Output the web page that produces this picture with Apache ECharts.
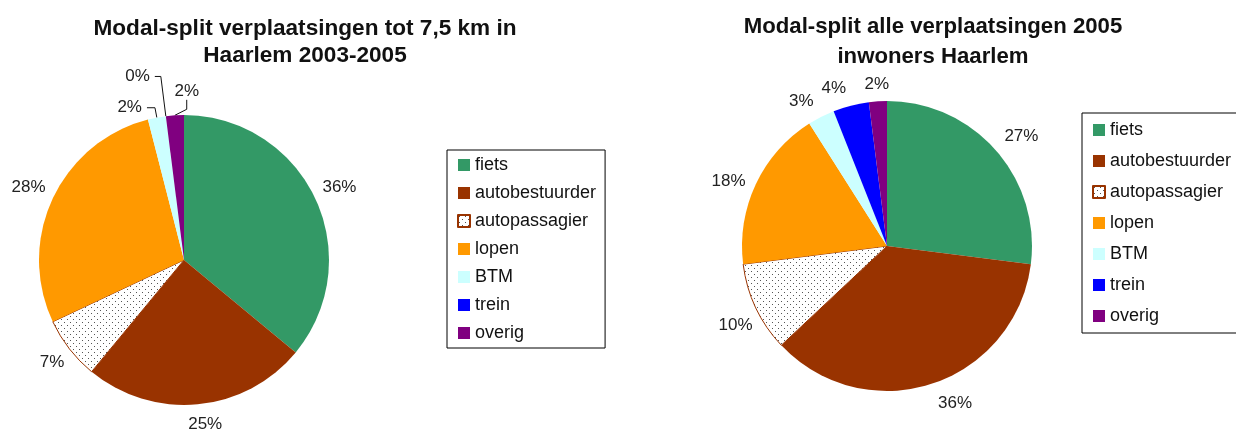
<!doctype html>
<html>
<head>
<meta charset="utf-8">
<title>Modal-split Haarlem</title>
<script src="https://cdn.jsdelivr.net/npm/echarts@6/dist/echarts.min.js"></script>
<style>
    html, body { margin: 0; padding: 0; background: #fff; }
    #main { width: 1236px; height: 430px; }
</style>
</head>
<body>
<div id="main"></div>
<script type="text/javascript">
    // categorieen en aandelen (in %)
    var categories = ['fiets', 'autobestuurder', 'autopassagier', 'lopen', 'BTM', 'trein', 'overig'];
    var shortTrips = [36, 25, 7, 28, 2, 0, 2];   // verplaatsingen tot 7,5 km, 2003-2005
    var allTrips = [27, 36, 10, 18, 3, 4, 2];    // alle verplaatsingen 2005
    var titleLeft = 'Modal-split verplaatsingen tot 7,5 km in\nHaarlem 2003-2005';
    var titleRight = 'Modal-split alle verplaatsingen 2005\ninwoners Haarlem';

    var font = "'Liberation Sans', Arial, sans-serif";
    var colors = ['#339966', '#993300', '#ffffff', '#ff9900', '#ccffff', '#0000ff', '#800080'];

    // gestippeld patroon voor autopassagier
    function dotPattern() {
        var c = document.createElement('canvas');
        c.width = 6; c.height = 6;
        var ctx = c.getContext('2d');
        ctx.fillStyle = '#ffffff';
        ctx.fillRect(0, 0, 6, 6);
        ctx.fillStyle = '#555555';
        ctx.fillRect(1, 1, 1, 1);
        ctx.fillRect(4, 4, 1, 1);
        return c;
    }
    var pattern = dotPattern();

    // zichtbare verbindingslijnen bij de kleine sectoren links [length, length2]
    var leftLines = { 4: [10, 8], 5: [40, 6], 6: [14, 0] };
    // kleine verschuivingen van labels, zoals Excel ze neerzet [dx, dy]
    var labelNudge = [
        { 1: [6, 3], 6: [30, -10] },
        { 0: [10, 0], 1: [18, 3], 2: [4, 6], 3: [-3, 8], 4: [-12, 0], 5: [-13, -1] }
    ];
    var labelGap = 8;

    function buildData(values, lines) {
        return categories.map(function (name, i) {
            var item = { name: name, value: values[i], itemStyle: { color: colors[i] } };
            if (i === 2) {
                item.itemStyle = { color: { image: pattern, repeat: 'repeat' }, borderColor: '#993300', borderWidth: 1 };
            }
            if (lines && lines[i]) {
                item.labelLine = { length: lines[i][0], length2: lines[i][1], lineStyle: { color: '#111', width: 1, opacity: 1 } };
            }
            return item;
        });
    }

    function legendCfg(left, top, pad, gap) {
        return {
            orient: 'vertical',
            left: left, top: top,
            padding: [pad, 9, pad, 10],
            itemGap: gap,
            itemWidth: 12, itemHeight: 12,
            icon: 'rect',
            borderColor: '#000', borderWidth: 1,
            selectedMode: false,
            textStyle: { fontFamily: font, fontSize: 18, lineHeight: 18, color: '#111' },
            data: categories
        };
    }

    // label buiten de taart, zodat het kader net los van de rand ligt (zoals Excel)
    function placeLabel(params) {
        var s = params.seriesIndex, i = params.dataIndex;
        var nudge = (labelNudge[s] || {})[i] || [0, 0];
        var pts = params.labelLinePoints;
        var r = params.labelRect;
        if (s === 0 && leftLines[i]) {
            if (!(nudge[0] || nudge[1])) return;
            // label verschoven: lijn omhoog naar de onderkant van het label
            var lx = r.x + r.width / 2 + nudge[0];
            var ly = r.y + r.height + nudge[1];
            return {
                dx: nudge[0], dy: nudge[1],
                labelLinePoints: [pts[0], [lx, pts[0][1] - 6], [lx, ly]]
            };
        }
        if (!pts) return;
        var vx = pts[1][0] - pts[0][0], vy = pts[1][1] - pts[0][1];
        var len = Math.sqrt(vx * vx + vy * vy) || 1;
        vx /= len; vy /= len;
        var hw = r.width / 2, hh = r.height / 2;
        var t = Math.min(Math.abs(vx) > 1e-6 ? hw / Math.abs(vx) : 1e9, Math.abs(vy) > 1e-6 ? hh / Math.abs(vy) : 1e9);
        return {
            x: pts[0][0] + vx * (t + labelGap) + nudge[0],
            y: pts[0][1] + vy * (t + labelGap) + nudge[1],
            align: 'center', verticalAlign: 'middle'
        };
    }

    function pieCfg(center, values, lines) {
        return {
            type: 'pie',
            center: center,
            radius: 145,
            startAngle: 90,
            clockwise: true,
            avoidLabelOverlap: false,
            silent: true,
            label: {
                show: true, position: 'outside', fontFamily: font, fontSize: 17, color: '#222',
                formatter: function (p) { return Math.round(p.percent) + '%'; }
            },
            labelLine: { show: true, length: 16, length2: 0, lineStyle: { opacity: 0 } },
            labelLayout: placeLabel,
            emphasis: { disabled: true },
            data: buildData(values, lines)
        };
    }

    var myChart = echarts.init(document.getElementById('main'));
    var option = {
        animation: false,
        title: [
            { text: titleLeft, left: 305, top: 15, textAlign: 'center', padding: 0,
              textStyle: { fontFamily: font, fontSize: 22.6, fontWeight: 'bold', lineHeight: 27, color: '#111' } },
            { text: titleRight, left: 933, top: 12, textAlign: 'center', padding: 0,
              textStyle: { fontFamily: font, fontSize: 22.2, fontWeight: 'bold', lineHeight: 30, color: '#111' } }
        ],
        legend: [
            legendCfg(447, 150, 6, 10),
            legendCfg(1082, 113, 8, 13)
        ],
        series: [
            pieCfg([184, 260], shortTrips, leftLines),
            pieCfg([887, 246], allTrips, null)
        ]
    };
    myChart.setOption(option);
</script>
</body>
</html>
